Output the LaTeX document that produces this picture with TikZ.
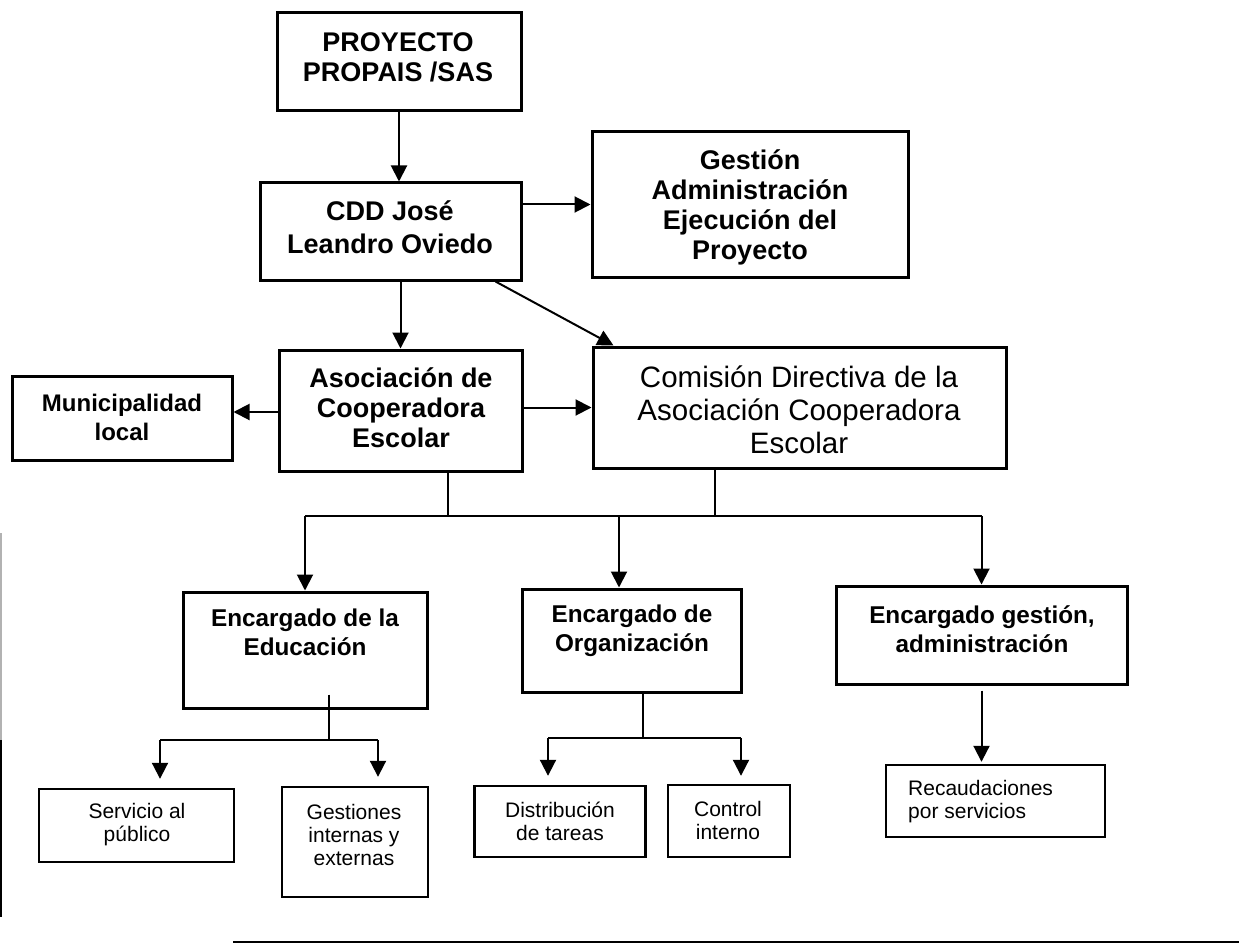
\documentclass[tikz,border=0pt]{standalone}
\usepackage{fontspec}
\setmainfont{Liberation Sans}
\usetikzlibrary{arrows.meta,calc}
\begin{document}
\begin{tikzpicture}[x=1pt,y=-1pt,
  bigbox/.style={draw,line width=3pt,rectangle,inner sep=0pt},
  smallbox/.style={draw,line width=2.4pt,rectangle,inner sep=0pt},
  txt/.style={inner sep=0pt,align=center},
  conn/.style={line width=2pt},
  arr/.style={line width=2pt,-{Triangle[length=16pt,width=16pt]}},
  fA/.style={font=\fontsize{27}{30}\selectfont\bfseries},
  fB/.style={font=\fontsize{24.3}{29}\selectfont\bfseries},
  fC/.style={font=\fontsize{21}{23}\selectfont}]
\useasboundingbox[fill=white] (0,0) rectangle (1239,944);

% boxes
\node[bigbox,minimum width=244pt,minimum height=98pt] (proy) at (399,62) {};
\node[bigbox,minimum width=261pt,minimum height=97pt] (cdd) at (390.5,231.5) {};
\node[bigbox,minimum width=316pt,minimum height=145pt] (gest) at (750,204.5) {};
\node[bigbox,minimum width=243pt,minimum height=121pt] (asoc) at (400.5,410.5) {};
\node[bigbox,minimum width=413pt,minimum height=121pt] (com) at (799.5,407.5) {};
\node[bigbox,minimum width=220pt,minimum height=84pt] (muni) at (122,418) {};
\node[bigbox,minimum width=244pt,minimum height=116pt] (edu) at (305,650) {};
\node[bigbox,minimum width=219pt,minimum height=103pt] (org) at (631.5,640.5) {};
\node[bigbox,minimum width=291pt,minimum height=98pt] (adm) at (981.5,635) {};
\node[smallbox,minimum width=195pt,minimum height=73pt] (serv) at (136.5,825.5) {};
\node[smallbox,minimum width=146pt,minimum height=110pt] (gesti) at (355,842) {};
\node[smallbox,minimum width=171pt,minimum height=71pt] (dist) at (560,821.5) {};
\node[smallbox,minimum width=122pt,minimum height=72pt] (ctrl) at (729,821) {};
\node[smallbox,minimum width=219pt,minimum height=72pt] (rec) at (995.5,801) {};

% texts
\node[txt,fA] (tproy) at (398,57) {PROYECTO\\PROPAIS /SAS};
\node[txt,fA,font=\fontsize{27}{33}\selectfont\bfseries] (tcdd) at (390,227.5) {CDD José\\Leandro Oviedo};
\node[txt,fA] (tgest) at (750,207) {Gestión\\Administración\\Ejecución del\\Proyecto};
\node[txt,fA] (tasoc) at (401,408) {Asociación de\\Cooperadora\\Escolar};
\node[txt,font=\fontsize{29.5}{33}\selectfont] (tcom) at (799,410) {Comisión Directiva de la\\Asociación Cooperadora\\Escolar};
\node[txt,font=\fontsize{24}{29}\selectfont\bfseries] (tmuni) at (122,417.5) {Municipalidad\\local};
\node[txt,fB] (tedu) at (305,632.5) {Encargado de la\\Educación};
\node[txt,fB] (torg) at (632,631) {Encargado de\\Organización};
\node[txt,fB] (tadm) at (982,629) {Encargado gestión,\\administración};
\node[txt,fC] (tserv) at (137,824.5) {Servicio al\\público};
\node[txt,fC] (tgesti) at (354,835) {Gestiones\\internas y\\externas};
\node[txt,fC] (tdist) at (560,821.5) {Distribución\\de tareas};
\node[txt,fC] (tctrl) at (728,820) {Control\\interno};
\node[txt,fC,align=left,anchor=west] (trec) at (908,801.5) {Recaudaciones\\por servicios};

% top connectors
\draw[arr] (proy.south) -- (proy.south |- cdd.north);
\draw[arr] (cdd.east |- gest.west) -- (gest.west);
\draw[arr] (asoc.north |- cdd.south) -- (asoc.north);
\draw[arr] ($(cdd.south west)+(237,0)$) -- ($(com.north west)+(22,0)$);
\draw[arr] (asoc.west |- 0,412) -- (muni.east |- 0,412);
\draw[arr] (asoc.east |- com.west) -- (com.west);

% main bus
\coordinate (ja) at (448,516);
\coordinate (jc) at (715,516);
\coordinate (jo) at (619,516);
\draw[conn] (asoc.south -| ja) -- (ja);
\draw[conn] (com.south -| jc) -- (jc);
\draw[conn] (edu.north |- ja) -- (adm.north |- ja);
\draw[arr] (edu.north |- ja) -- (edu.north);
\draw[arr] (jo) -- (jo |- org.north);
\draw[arr] (adm.north |- ja) -- (adm.north);

% education branch
\coordinate (e1) at (329,740);
\coordinate (es) at (160,740);
\coordinate (eg) at (378,740);
\draw[conn] ($(edu.south -| e1)+(0,-15)$) -- (e1);
\draw[conn] (es) -- (eg);
\draw[arr] (es) -- ($(es |- serv.north)+(0,-9)$);
\draw[arr] (eg) -- ($(eg |- gesti.north)+(0,-9)$);

% organization branch
\coordinate (o1) at (643,738);
\coordinate (od) at (548,738);
\coordinate (oc) at (741,738);
\draw[conn] (org.south -| o1) -- (o1);
\draw[conn] (od) -- (oc);
\draw[arr] (od) -- ($(od |- dist.north)+(0,-9)$);
\draw[arr] (oc) -- ($(oc |- ctrl.north)+(0,-8)$);

% administration branch
\draw[arr] ($(adm.south)+(0,5)$) -- ($(adm.south |- rec.north)+(0,-2)$);

% page edge marks
\draw[gray!60,line width=1.5pt] (1,533) -- (1,740);
\draw[black,line width=1.5pt] (1,740) -- (1,917);
\draw[black,line width=2pt] (233,942) -- (1239,942);
\end{tikzpicture}
\end{document}
